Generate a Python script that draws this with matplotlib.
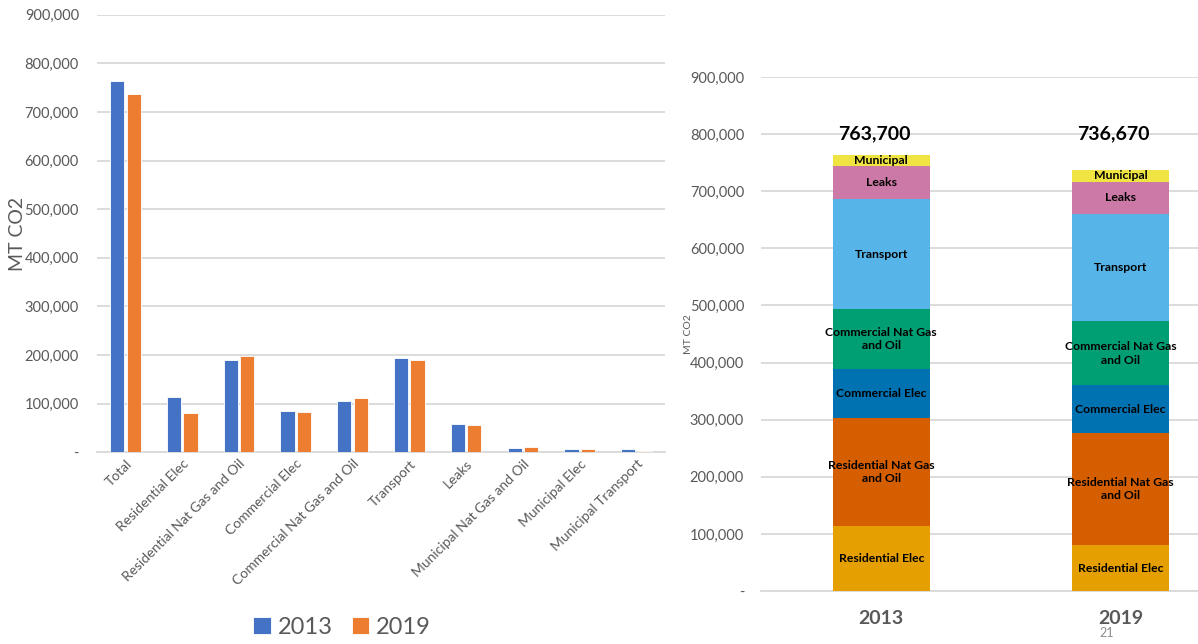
import matplotlib
matplotlib.use("Agg")
import matplotlib.pyplot as plt
import numpy as np
from matplotlib.ticker import FuncFormatter, MultipleLocator

plt.rcParams["font.family"] = ["Lato", "DejaVu Sans"]

# ---- data ----
categories = ["Total", "Residential Elec", "Residential Nat Gas and Oil", "Commercial Elec",
              "Commercial Nat Gas and Oil", "Transport", "Leaks", "Municipal Nat Gas and Oil",
              "Municipal Elec", "Municipal Transport"]
vals_2013 = [763700, 113000, 190000, 85500, 104500, 194000, 57000, 7500, 6500, 5700]
vals_2019 = [736670, 80000, 197000, 83000, 112000, 189000, 56000, 10500, 6500, 2670]

years = ["2013", "2019"]
stack_labels = ["Residential Elec", "Residential Nat Gas\nand Oil", "Commercial Elec",
                "Commercial Nat Gas\nand Oil", "Transport", "Leaks", "Municipal"]
stack_2013 = [113000, 190000, 85500, 104500, 194000, 57000, 19700]
stack_2019 = [80000, 197000, 83000, 112000, 189000, 56000, 19670]
totals = [763700, 736670]

BLUE, ORANGE = "#4472C4", "#ED7D31"
STACK_COLORS = ["#E69F00", "#D55E00", "#0072B2", "#009E73", "#56B4E9", "#CC79A7", "#F0E442"]
GRID = "#D9D9D9"
GRAY = "#595959"


def fmt(v, _):
    return "-" if v == 0 else f"{v:,.0f}"


fig = plt.figure(figsize=(11.98, 6.44), dpi=100)

# ---- left: grouped bars ----
ax = fig.add_axes([0.081, 0.298, 0.474, 0.679])
x = np.arange(len(categories))
bw = 0.25
b1 = ax.bar(x - 0.145, vals_2013, bw, color=BLUE, label="2013", zorder=3, edgecolor="white", linewidth=0.6)
b2 = ax.bar(x + 0.145, vals_2019, bw, color=ORANGE, label="2019", zorder=3, edgecolor="white", linewidth=0.6)
ax.set_xlim(-0.5, len(categories) - 0.5)
ax.set_ylim(0, 900000)
ax.yaxis.set_major_locator(MultipleLocator(100000))
ax.yaxis.set_major_formatter(FuncFormatter(fmt))
ax.grid(axis="y", color=GRID, linewidth=1.3, zorder=0)
for s in ["top", "right", "left"]:
    ax.spines[s].set_visible(False)
ax.spines["bottom"].set_color(GRID)
ax.spines["bottom"].set_linewidth(1.3)
ax.tick_params(axis="both", length=0, colors=GRAY, labelsize=10.5)
ax.tick_params(axis="y", pad=13)
ax.tick_params(axis="x", pad=4)
ax.set_xticks(x)
ax.set_xticklabels(categories, rotation=45, ha="right", rotation_mode="anchor", color=GRAY, fontsize=10)
ax.set_ylabel("MT CO2", color=GRAY, fontsize=14)
ax.yaxis.set_label_coords(-0.125, 0.5)
leg = fig.legend(handles=[b1, b2], labels=["2013", "2019"], loc="center",
                 bbox_to_anchor=(342 / 1198, 1 - 627 / 644), ncol=2, frameon=False,
                 fontsize=17, handlelength=0.75, handleheight=0.75, handletextpad=0.3,
                 columnspacing=0.8, borderaxespad=0)
for t in leg.get_texts():
    t.set_color(GRAY)

# ---- right: stacked bars ----
ax2 = fig.add_axes([0.635, 0.0823, 0.365, 0.798])
xs = np.arange(len(years))
sw = 0.405
bottoms = np.zeros(2)
for i, lab in enumerate(stack_labels):
    h = np.array([stack_2013[i], stack_2019[i]])
    ax2.bar(xs, h, sw, bottom=bottoms, color=STACK_COLORS[i], zorder=3)
    for j in range(2):
        ax2.text(xs[j], bottoms[j] + h[j] / 2, lab, ha="center", va="center",
                 fontsize=8.8, fontweight="bold", color="black", zorder=4, linespacing=1.25)
    bottoms += h
for j in range(2):
    ax2.text(xs[j] - 0.03, 800000, f"{totals[j]:,}", ha="center", va="center",
             fontsize=14, fontweight="bold", color="black", zorder=4)
ax2.set_xlim(-0.504, 1.324)
ax2.set_ylim(0, 900000)
ax2.yaxis.set_major_locator(MultipleLocator(100000))
ax2.yaxis.set_major_formatter(FuncFormatter(fmt))
ax2.grid(axis="y", color=GRID, linewidth=1.3, zorder=0)
for s in ["top", "right", "left"]:
    ax2.spines[s].set_visible(False)
ax2.spines["bottom"].set_color(GRID)
ax2.spines["bottom"].set_linewidth(1.3)
ax2.tick_params(axis="both", length=0, colors=GRAY, labelsize=10.5)
ax2.tick_params(axis="y", pad=12)
ax2.tick_params(axis="x", pad=14)
ax2.set_xticks(xs)
ax2.set_xticklabels(years, fontsize=14, fontweight="bold", color=GRAY)
ax2.set_ylabel("MT CO2", color=GRAY, fontsize=7.5)
ax2.yaxis.set_label_coords(-0.155, 0.5)

fig.text(1107 / 1198, 1 - 633 / 644, "21", ha="center", va="center", color="#8C8C8C", fontsize=9)

fig.savefig("out.png", dpi=100)
